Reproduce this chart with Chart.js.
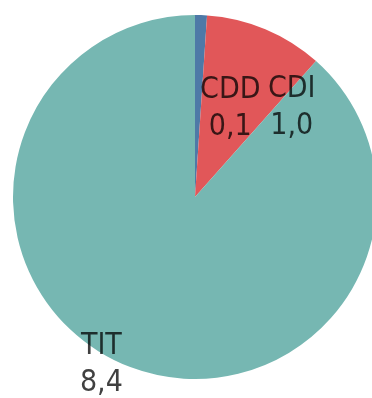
<!DOCTYPE html>
<html>
<head>
<meta charset="utf-8">
<script src="https://cdn.jsdelivr.net/npm/chart.js@4"></script>
<style>
    html, body { margin: 0; padding: 0; background: #fff; overflow: hidden; }
    #wrap { width: 372px; height: 398px; overflow: hidden; }
</style>
</head>
<body>
<div id="wrap"><canvas id="pieChart" width="390" height="398"></canvas></div>
<script>
// Chart data
const categories = ['CDD', 'CDI', 'TIT'];
const values = [0.1, 1.0, 8.4];
const sliceColors = ['#4e79a7', '#e15759', '#76b7b2'];

// Label placement: nudge from a point on the slice's middle ray (px)
const labelNudge = [[32, 11], [58, 3], [-58, 74]];

function formatValue(v) {
    return v.toFixed(1).replace('.', ',');
}

// Draws "name / value" under each slice
const sliceLabels = {
    id: 'sliceLabels',
    afterDatasetsDraw(chart) {
        const ctx = chart.ctx;
        const meta = chart.getDatasetMeta(0);
        ctx.save();
        ctx.font = '30px "DejaVu Sans Condensed", "DejaVu Sans", sans-serif';
        ctx.fillStyle = 'rgba(0, 0, 0, 0.75)';
        ctx.textAlign = 'center';
        ctx.textBaseline = 'middle';
        meta.data.forEach((arc, i) => {
            const p = arc.getProps(['x', 'y', 'startAngle', 'endAngle', 'outerRadius'], true);
            const mid = (p.startAngle + p.endAngle) / 2;
            const r = p.outerRadius * 0.55;
            const x = p.x + Math.cos(mid) * r + labelNudge[i][0];
            const y = p.y + Math.sin(mid) * r + labelNudge[i][1];
            ctx.fillText(categories[i], x, y - 18);
            ctx.fillText(formatValue(values[i]), x, y + 19);
        });
        ctx.restore();
    }
};

function initChart() {
    const ctx = document.getElementById('pieChart').getContext('2d');
    new Chart(ctx, {
        type: 'pie',
        data: {
            labels: categories,
            datasets: [{
                data: values,
                backgroundColor: sliceColors,
                borderWidth: 0
            }]
        },
        options: {
            responsive: false,
            animation: false,
            layout: { padding: { top: 15, bottom: 19, left: 0, right: 0 } },
            plugins: {
                legend: { display: false },
                tooltip: { enabled: false }
            }
        },
        plugins: [sliceLabels]
    });
}

initChart();
</script>
</body>
</html>
